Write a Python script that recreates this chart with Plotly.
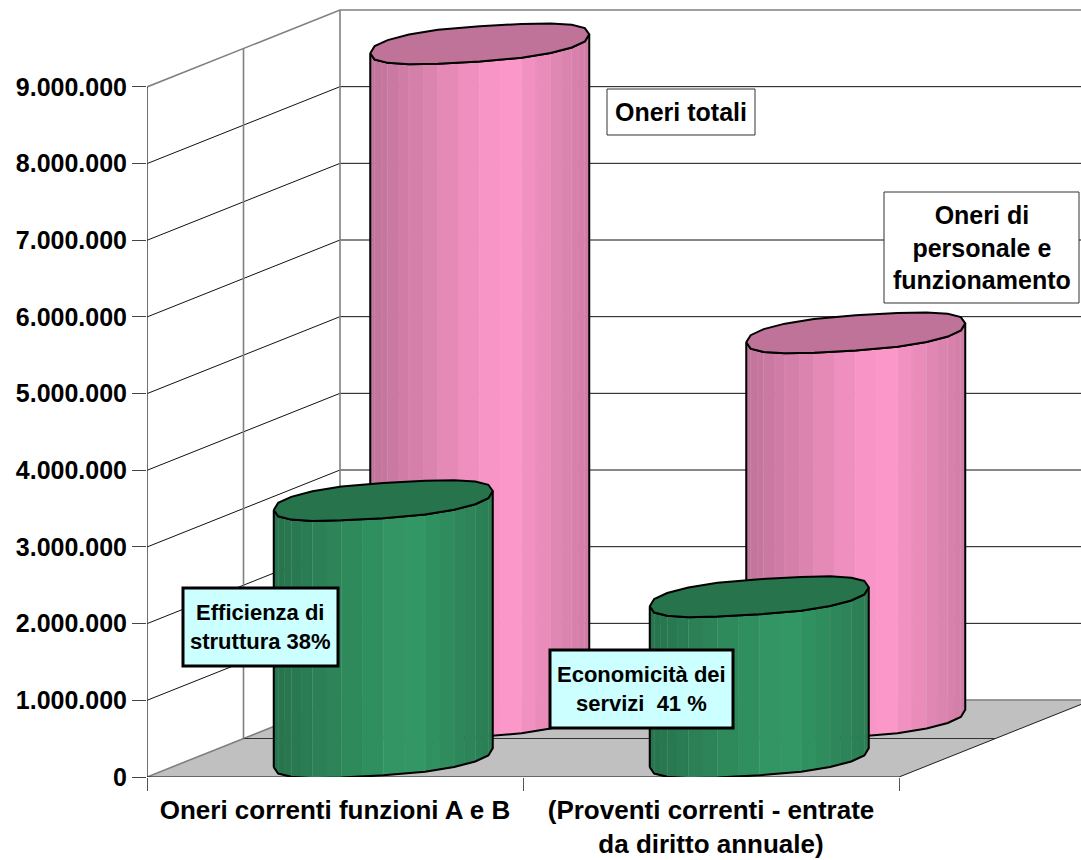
import math
import plotly.graph_objects as go

# ---- data ----
categories = ["Oneri correnti funzioni A e B", "(Proventi correnti - entrate<br>da diritto annuale)"]
oneri = [8810000, 5040000]          # pink, back row
proventi = [3355000, 2100000]       # green, front row
tick_values = [0, 1000000, 2000000, 3000000, 4000000, 5000000, 6000000, 7000000, 8000000, 9000000]
tick_labels = ["0", "1.000.000", "2.000.000", "3.000.000", "4.000.000", "5.000.000",
               "6.000.000", "7.000.000", "8.000.000", "9.000.000"]

# ---- geometry of the oblique 3-D view ----
W, H = 1081, 860
LEFT, BASE = 147, 777
PX_CAT = 376.0
PX_VAL = 76.67 / 1e6
DEPTH_X = 193 / PX_CAT
DEPTH_V = 1004000
TOP_V = BASE / PX_VAL
RIGHT_X = (W - LEFT) / PX_CAT
FONT = "Liberation Sans"


def X(cat, depth=0.0):
    return cat + depth * DEPTH_X


def V(val, depth=0.0):
    return val + depth * DEPTH_V


def px(x):
    return (x - LEFT) / PX_CAT


def py(y):
    return (BASE - y) / PX_VAL


fig = go.Figure()


def line(xs, ys, color, width=1.0):
    fig.add_trace(go.Scatter(x=xs, y=ys, mode="lines", line=dict(color=color, width=width),
                             hoverinfo="skip", showlegend=False))


def poly(xs, ys, fill, lc=None, lw=0.0):
    fig.add_trace(go.Scatter(x=list(xs) + [xs[0]], y=list(ys) + [ys[0]], mode="lines", fill="toself",
                             fillcolor=fill, line=dict(color=lc or fill, width=lw if lc else 0.6),
                             hoverinfo="skip", showlegend=False))


# floor
poly([X(0), X(2), X(2, 1), X(0, 1)], [V(0), V(0), V(0, 1), V(0, 1)], "#C0C0C0")
line([X(0), X(0, 1), X(2, 1)], [V(0), V(0, 1), V(0, 1)], "#808080", 1.6)
line([X(2), X(2, 1)], [V(0), V(0, 1)], "#222222", 1.0)
line([X(0, 0.5), X(2, 0.5)], [V(0, 0.5), V(0, 0.5)], "#333333", 1.0)
# walls
for v in tick_values[1:-1]:
    line([X(0), X(0, 1), X(2, 1)], [V(v), V(v, 1), V(v, 1)], "#111111", 1.0)
top = tick_values[-1]
line([X(0), X(0, 1), X(2, 1)], [V(top), V(top, 1), V(top, 1)], "#808080", 1.6)
for d in (0.5, 1.0):
    line([X(0, d), X(0, d)], [V(0, d), V(top, d)], "#808080", 1.6)
# front axes
line([X(0), X(0)], [V(0), V(top)], "#333333", 1.4)
line([X(0), X(2)], [V(0), V(0)], "#111111", 1.2)


def shade(base, f):
    return "#%02X%02X%02X" % tuple(min(255, round(c * f)) for c in base)


def blunt(c, power=0.82):
    return math.copysign(abs(c) ** power, c)


def cylinder(cat_center, depth, value, base):
    A, B, C = 109.5 / PX_CAT, 17.6 / PX_VAL, 9.5 / PX_VAL
    n = 10       # rim facets on each half
    sub = 2      # shaded strips per rim facet
    cx = X(cat_center, depth)
    y0, y1 = V(0, depth), V(value, depth)
    ts = [math.pi * i / n for i in range(n + 1)]
    ex = [cx - A * blunt(math.cos(t)) for t in ts]
    # offset from the axis centre on the near half of the rim
    off = [-C * math.cos(t) - B * blunt(math.sin(t)) for t in ts]
    for i in range(n):
        for k in range(sub):
            a, b = k / sub, (k + 1) / sub
            xa = ex[i] + (ex[i + 1] - ex[i]) * a
            xb = ex[i] + (ex[i + 1] - ex[i]) * b
            oa = off[i] + (off[i + 1] - off[i]) * a
            ob = off[i] + (off[i + 1] - off[i]) * b
            u = ((xa + xb) / 2 - (cx - A)) / (2 * A)
            f = 0.75 + 0.25 * u / 0.61 if u < 0.61 else 1 - 0.19 * (u - 0.61) / 0.39
            poly([xa, xb, xb, xa], [y0 + oa, y0 + ob, y1 + ob, y1 + oa], shade(base, f))
    # faint facet edges
    for i in range(1, n):
        line([ex[i], ex[i]], [y0 + off[i], y1 + off[i]], "rgba(255,255,255,0.12)", 0.7)
    # body outline
    line(ex + [ex[-1]] + ex[::-1] + [ex[0]],
         [y0 + o for o in off] + [y1 + off[-1]] + [y1 + o for o in off[::-1]] + [y0 + off[0]],
         "#000000", 2.0)
    # top face
    ts2 = [math.pi * i / n for i in range(2 * n)]
    tx = [cx - A * blunt(math.cos(t)) for t in ts2]
    ty = [y1 - C * math.cos(t) - B * blunt(math.sin(t)) for t in ts2]
    poly(tx, ty, shade(base, 0.75), "#000000", 2.0)


PINK = (255, 153, 204)
GREEN = (51, 153, 102)
for i, v in enumerate(oneri):
    cylinder(i + 0.5, 0.75, v, PINK)
for i, v in enumerate(proventi):
    cylinder(i + 0.5, 0.25, v, GREEN)

shapes = []
annotations = []


def box(x0, y0, x1, y1, text, fill, border, bw, size, family=FONT):
    shapes.append(dict(type="rect", xref="x", yref="y", x0=px(x0), x1=px(x1), y0=py(y0), y1=py(y1),
                       fillcolor=fill, line=dict(color=border, width=bw), layer="above"))
    annotations.append(dict(xref="x", yref="y", x=px((x0 + x1) / 2), y=py((y0 + y1) / 2), text=text,
                            showarrow=False, align="center", xanchor="center", yanchor="middle",
                            font=dict(family=family, size=size, color="#000000")))


box(607, 89, 755, 135, "<b>Oneri totali</b>", "#FFFFFF", "#333333", 1, 25)
box(884, 192, 1079, 303, "<b>Oneri di<br>personale e<br>funzionamento</b>", "#FFFFFF", "#333333", 1, 25)
box(183, 588, 338, 666, "<b>Efficienza di<br>struttura 38%</b>", "#CCFFFF", "#000000", 3, 22)
box(550, 650, 733, 728, "<b>Economicità dei<br>servizi  41 %</b>", "#CCFFFF", "#000000", 3, 22)

fig.update_layout(
    width=W, height=H, autosize=False,
    margin=dict(l=LEFT, r=0, t=0, b=H - BASE, pad=0, autoexpand=False),
    paper_bgcolor="#FFFFFF", plot_bgcolor="#FFFFFF", showlegend=False,
    shapes=shapes, annotations=annotations,
    xaxis=dict(range=[0, RIGHT_X], showgrid=False, zeroline=False, showline=False, automargin=False,
               tickmode="array", tickvals=[0.5, 1.5], ticktext=["<b>%s</b>" % c for c in categories],
               ticks="", ticklabelstandoff=15,
               tickfont=dict(family=FONT, size=26, color="#000000"),
               minor=dict(tickmode="array", tickvals=[0, 1, 2], ticks="outside", ticklen=13,
                          tickcolor="#555555", tickwidth=1.2, showgrid=False)),
    yaxis=dict(range=[0, TOP_V], showgrid=False, zeroline=False, showline=False, automargin=False,
               tickmode="array", tickvals=tick_values, ticktext=["<b>%s</b>" % t for t in tick_labels],
               ticks="outside", ticklen=14, tickcolor="#444444", tickwidth=1.2,
               tickfont=dict(family=FONT, size=25, color="#000000")),
)
fig.write_html("out.html", config={"displayModeBar": False},
               post_script="document.body.style.margin='0';document.documentElement.style.overflow='hidden';")
